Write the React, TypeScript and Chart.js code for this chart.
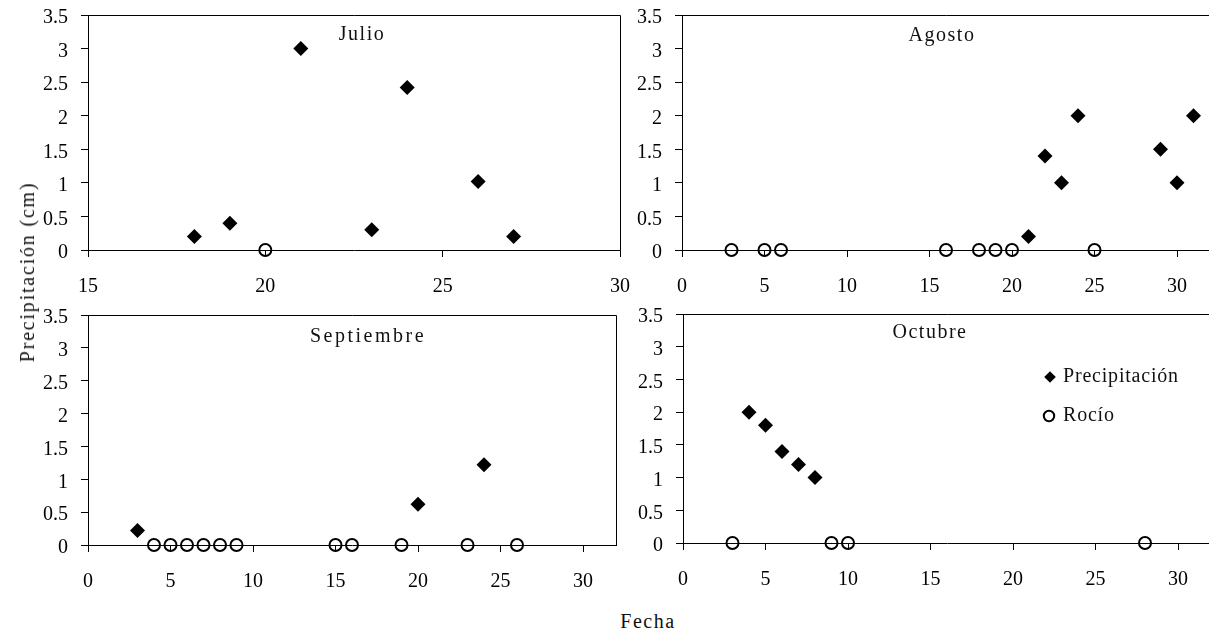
import React, { useEffect, useRef } from 'react';
import { Chart, registerables } from 'chart.js';

Chart.register(...registerables);

const FONT = '"Liberation Serif", "Times New Roman", serif';

// Series names
const serieLluvia = 'Precipitación';
const serieRocio = 'Rocío';

// Julio
const julioDias = [18, 19, 21, 23, 24, 26, 27];
const julioPrecip = [0.2, 0.4, 3.0, 0.3, 2.42, 1.02, 0.2];
const julioRocioDias = [20];
const julioRocio = [0];

// Agosto
const agostoDias = [21, 22, 23, 24, 29, 30, 31];
const agostoPrecip = [0.2, 1.4, 1.0, 2.0, 1.5, 1.0, 2.0];
const agostoRocioDias = [3, 5, 6, 16, 18, 19, 20, 25];
const agostoRocio = [0, 0, 0, 0, 0, 0, 0, 0];

// Septiembre
const septDias = [3, 20, 24];
const septPrecip = [0.22, 0.62, 1.22];
const septRocioDias = [4, 5, 6, 7, 8, 9, 15, 16, 19, 23, 26];
const septRocio = [0, 0, 0, 0, 0, 0, 0, 0, 0, 0, 0];

// Octubre
const octDias = [4, 5, 6, 7, 8];
const octPrecip = [2.0, 1.8, 1.4, 1.2, 1.0];
const octRocioDias = [3, 9, 10, 28];
const octRocio = [0, 0, 0, 0];

// Axis ticks
const yTicks = [0, 0.5, 1, 1.5, 2, 2.5, 3, 3.5];
const xTicksJulio = [15, 20, 25, 30];
const xTicksMes = [0, 5, 10, 15, 20, 25, 30];

// Panel layout constants (padding must exceed the scales' own label overhang)
const Y_AXIS_W = 70;
const X_AXIS_H = 50;
const PAD_TOP = 32;
const PAD_RIGHT = 36;

type Area = { left: number; top: number; right: number; bottom: number };

type PanelProps = {
  mes: string;
  dias: number[];
  precip: number[];
  rocioDias: number[];
  rocio: number[];
  xMin: number;
  xMax: number;
  xTicks: number[];
  area: Area;
  titleX: number;
  titleY: number;
  titleSpacing: number;
  leyenda?: boolean;
};

const toPoints = (xs: number[], ys: number[]) => xs.map((x, i) => ({ x, y: ys[i] }));

function Panel(props: PanelProps) {
  const ref = useRef<HTMLCanvasElement | null>(null);
  const { area } = props;
  const width = Y_AXIS_W + (area.right - area.left) + PAD_RIGHT;
  const height = PAD_TOP + (area.bottom - area.top) + X_AXIS_H;

  useEffect(() => {
    if (!ref.current) return;

    // top and right frame lines of the plot box
    const marco = {
      id: 'marco',
      beforeDatasetsDraw(chart: any) {
        const { ctx, chartArea: a } = chart;
        ctx.save();
        ctx.strokeStyle = '#000';
        ctx.lineWidth = 1;
        const t = Math.round(a.top) + 0.5;
        const r = Math.round(a.right) + 0.5;
        ctx.beginPath();
        ctx.moveTo(Math.round(a.left), t);
        ctx.lineTo(r, t);
        ctx.lineTo(r, Math.round(a.bottom) + 0.5);
        ctx.stroke();
        ctx.restore();
      },
    };

    // month name inside the plot box
    const titulo = {
      id: 'titulo',
      afterDatasetsDraw(chart: any) {
        const { ctx, chartArea: a } = chart;
        ctx.save();
        ctx.font = `20px ${FONT}`;
        ctx.fillStyle = '#111';
        ctx.textAlign = 'center';
        ctx.textBaseline = 'alphabetic';
        (ctx as any).letterSpacing = `${props.titleSpacing}px`;
        ctx.fillText(props.mes, a.left + props.titleX, a.top + props.titleY);
        ctx.restore();
      },
    };

    // legend drawn inside the last panel
    const leyenda = {
      id: 'leyenda',
      afterDatasetsDraw(chart: any) {
        if (!props.leyenda) return;
        const { ctx, chartArea: a } = chart;
        const mx = a.left + 367;
        const tx = a.left + 380;
        const y1 = a.top + 63;
        const y2 = a.top + 102;
        ctx.save();
        ctx.fillStyle = '#000';
        ctx.strokeStyle = '#000';
        const r = 5.8;
        ctx.beginPath();
        ctx.moveTo(mx, y1 - r);
        ctx.lineTo(mx + r, y1);
        ctx.lineTo(mx, y1 + r);
        ctx.lineTo(mx - r, y1);
        ctx.closePath();
        ctx.fill();
        ctx.lineWidth = 2;
        ctx.beginPath();
        ctx.arc(mx - 1, y2, 5.2, 0, Math.PI * 2);
        ctx.stroke();
        ctx.font = `20px ${FONT}`;
        ctx.fillStyle = '#111';
        ctx.textAlign = 'left';
        ctx.textBaseline = 'middle';
        (ctx as any).letterSpacing = '0.8px';
        ctx.fillText(serieLluvia, tx, y1);
        ctx.fillText(serieRocio, tx, y2);
        ctx.restore();
      },
    };

    const tickFont = { family: FONT, size: 20 };
    const gridOpts = {
      display: true,
      drawOnChartArea: false,
      drawTicks: true,
      tickLength: 7,
      color: '#000',
      lineWidth: 1,
    };

    const chart = new Chart(ref.current, {
      type: 'scatter',
      data: {
        datasets: [
          {
            label: serieLluvia,
            data: toPoints(props.dias, props.precip),
            pointStyle: 'rectRot',
            pointRadius: 7.5,
            pointBackgroundColor: '#000',
            pointBorderColor: '#000',
            pointBorderWidth: 0,
            showLine: false,
            clip: false,
          },
          {
            label: serieRocio,
            data: toPoints(props.rocioDias, props.rocio),
            pointStyle: 'circle',
            pointRadius: 6,
            pointBackgroundColor: 'rgba(0,0,0,0)',
            pointBorderColor: '#000',
            pointBorderWidth: 2,
            showLine: false,
            clip: false,
          },
        ],
      },
      options: {
        responsive: false,
        animation: false,
        events: [],
        layout: { padding: { top: PAD_TOP, right: PAD_RIGHT, left: 0, bottom: 0 } },
        plugins: {
          legend: { display: false },
          tooltip: { enabled: false },
          title: { display: false },
        },
        scales: {
          x: {
            type: 'linear',
            min: props.xMin,
            max: props.xMax,
            afterBuildTicks: (s: any) => {
              s.ticks = props.xTicks.map((v) => ({ value: v }));
            },
            afterFit: (s: any) => {
              s.height = X_AXIS_H;
            },
            grid: gridOpts,
            border: { display: true, color: '#000', width: 1 },
            ticks: {
              padding: 18,
              color: '#000',
              font: tickFont,
              maxRotation: 0,
              autoSkip: false,
              callback: (v: any) => String(v),
            },
          },
          y: {
            type: 'linear',
            min: 0,
            max: 3.5,
            afterBuildTicks: (s: any) => {
              s.ticks = yTicks.map((v) => ({ value: v }));
            },
            afterFit: (s: any) => {
              s.width = Y_AXIS_W;
            },
            grid: gridOpts,
            border: { display: true, color: '#000', width: 1 },
            ticks: {
              padding: 13,
              labelOffset: 3,
              color: '#000',
              font: tickFont,
              autoSkip: false,
              callback: (v: any) => String(v),
            },
          },
        },
      } as any,
      plugins: [marco, titulo, leyenda],
    });

    return () => chart.destroy();
  }, []);

  return (
    <canvas
      ref={ref}
      width={width}
      height={height}
      style={{
        position: 'absolute',
        left: area.left - Y_AXIS_W,
        top: area.top - PAD_TOP,
        width,
        height,
      }}
    />
  );
}

export default function App() {
  return (
    <div
      style={{
        position: 'absolute',
        left: 0,
        top: 0,
        width: 1209,
        height: 632,
        overflow: 'hidden',
        background: '#fff',
        fontFamily: FONT,
        color: '#111',
      }}
    >
      <Panel
        mes="Julio"
        dias={julioDias}
        precip={julioPrecip}
        rocioDias={julioRocioDias}
        rocio={julioRocio}
        xMin={15}
        xMax={30}
        xTicks={xTicksJulio}
        area={{ left: 88, top: 15, right: 620, bottom: 250 }}
        titleX={274}
        titleY={25}
        titleSpacing={1.5}
      />
      <Panel
        mes="Agosto"
        dias={agostoDias}
        precip={agostoPrecip}
        rocioDias={agostoRocioDias}
        rocio={agostoRocio}
        xMin={0}
        xMax={32}
        xTicks={xTicksMes}
        area={{ left: 682, top: 15, right: 1210, bottom: 250 }}
        titleX={260}
        titleY={26}
        titleSpacing={1.5}
      />
      <Panel
        mes="Septiembre"
        dias={septDias}
        precip={septPrecip}
        rocioDias={septRocioDias}
        rocio={septRocio}
        xMin={0}
        xMax={32}
        xTicks={xTicksMes}
        area={{ left: 88, top: 315, right: 616, bottom: 545 }}
        titleX={280}
        titleY={27}
        titleSpacing={2.5}
      />
      <Panel
        mes="Octubre"
        dias={octDias}
        precip={octPrecip}
        rocioDias={octRocioDias}
        rocio={octRocio}
        xMin={0}
        xMax={32}
        xTicks={xTicksMes}
        area={{ left: 683, top: 314, right: 1211, bottom: 543 }}
        titleX={247}
        titleY={24}
        titleSpacing={1.5}
        leyenda
      />
      <div
        style={{
          position: 'absolute',
          left: 27,
          top: 272,
          transform: 'translate(-50%, -50%) rotate(-90deg)',
          whiteSpace: 'nowrap',
          fontSize: 20,
          letterSpacing: '1.8px',
          lineHeight: 1,
        }}
      >
        Precipitación (cm)
      </div>
      <div
        style={{
          position: 'absolute',
          left: 648,
          top: 621,
          transform: 'translate(-50%, -50%)',
          whiteSpace: 'nowrap',
          fontSize: 20,
          letterSpacing: '1.5px',
          lineHeight: 1,
        }}
      >
        Fecha
      </div>
    </div>
  );
}
